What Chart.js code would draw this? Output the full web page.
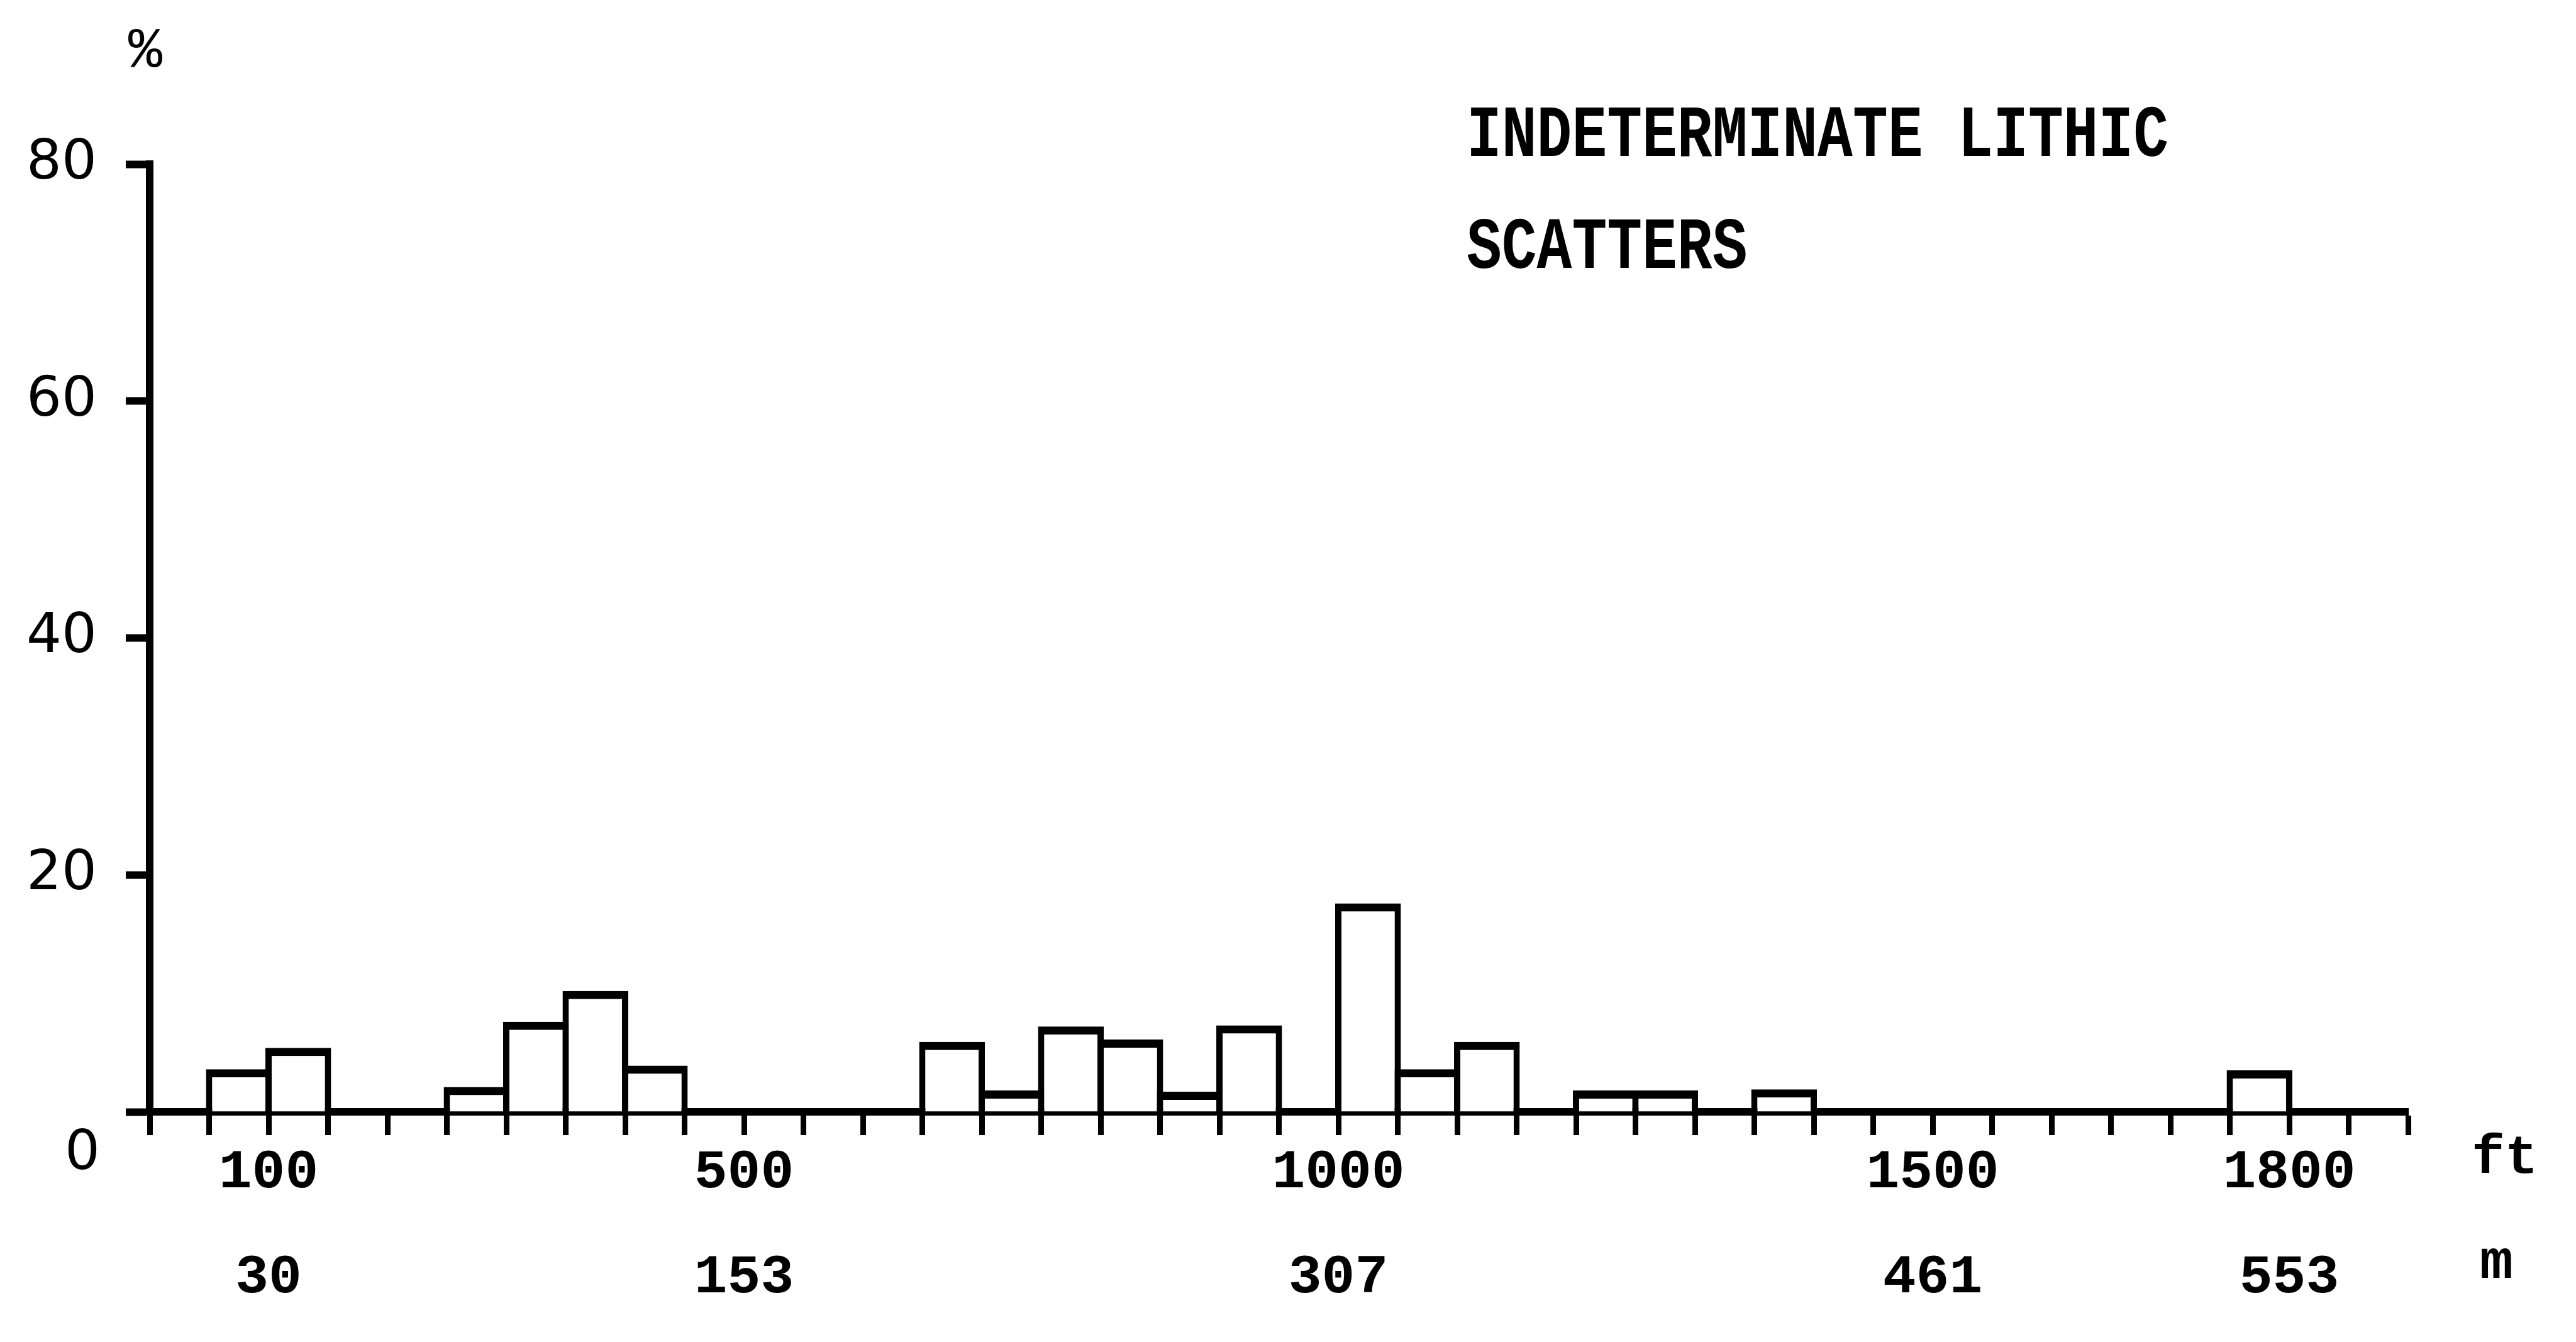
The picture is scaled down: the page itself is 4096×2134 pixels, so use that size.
<!DOCTYPE html>
<html>
<head>
<meta charset="utf-8">
<title>Indeterminate lithic scatters</title>
<script src="https://cdn.jsdelivr.net/npm/chart.js@4.4.1/dist/chart.umd.min.js"></script>
<style>
  html, body { margin: 0; padding: 0; background: #fff; }
  canvas { display: block; }
</style>
</head>
<body>
<canvas id="mycanvas" width="4096" height="2134"></canvas>
<script>
// 50 ft distance classes (lower edge, ft)
let binStart = [0, 50, 100, 150, 200, 250, 300, 350, 400, 450,
                500, 550, 600, 650, 700, 750, 800, 850, 900, 950,
                1000, 1050, 1100, 1150, 1200, 1250, 1300, 1350, 1400, 1450,
                1500, 1550, 1600, 1650, 1700, 1750, 1800, 1850];
// % of sites in each class (0 = no bar)
let percent = [0, 3.6, 5.4, 0, 0, 2.1, 7.6, 10.2, 3.9, 0,
               0, 0, 0, 5.9, 1.8, 7.2, 6.1, 1.7, 7.3, 0,
               17.6, 3.6, 5.9, 0, 1.8, 1.8, 0, 1.9, 0, 0,
               0, 0, 0, 0, 0, 3.5, 0, 0];
let ftTicks = [100, 500, 1000, 1500, 1800];
let mTicks = [30, 153, 307, 461, 553];
let yTicks = [20, 40, 60, 80];
let titleLines = ["INDETERMINATE LITHIC", "SCATTERS"];

let barData = [];
for (let i in binStart) {
    barData.push({ x: binStart[i] + 25, y: percent[i] || null });
}

// text that sits outside the normal axes
const annotations = {
    id: 'annotations',
    afterDraw(chart) {
        const c = chart.ctx;
        c.save();
        c.fillStyle = '#000';
        c.textBaseline = 'alphabetic';
        c.textAlign = 'left';
        c.font = 'bold 93px "Liberation Mono"';
        [[titleLines[0], 248], [titleLines[1], 426]].forEach(function (t) {
            c.save();
            c.translate(2332, t[1]);
            c.scale(1, 1.25);
            c.fillText(t[0], 0, 0);
            c.restore();
        });

        c.textBaseline = 'middle';
        c.textAlign = 'center';
        c.font = '90px "Liberation Mono"';
        c.fillText('%', 231, 82);

        c.textAlign = 'left';
        c.font = 'bold 88px "Liberation Mono"';
        c.fillText('ft', 3930, 1843);
        c.fillText('m', 3943, 2010);

        c.textAlign = 'center';
        c.font = '88px "DejaVu Sans"';
        c.fillText('0', 131, 1836);
        c.restore();
    }
};

let ctx = document.getElementById('mycanvas');

let histo = new Chart(ctx, {
    type: 'bar',
    data: {
        datasets: [{
            label: 'Indeterminate lithic scatters',
            data: barData,
            backgroundColor: '#fff',
            borderColor: '#000',
            borderWidth: { top: 13, left: 10, right: 10, bottom: 0 },
            borderSkipped: 'bottom',
            barPercentage: 1.106,
            categoryPercentage: 1
        }]
    },
    options: {
        responsive: false,
        animation: false,
        devicePixelRatio: 1,
        layout: { padding: { left: 0, top: 261, right: 267, bottom: 0 } },
        plugins: {
            legend: { display: false },
            tooltip: { enabled: false },
            title: { display: false }
        },
        scales: {
            x: {
                type: 'linear',
                min: 0,
                max: 1900,
                offset: false,
                afterFit: function (s) { s.height = 366; },
                grid: {
                    display: true,
                    offset: false,
                    drawOnChartArea: false,
                    drawTicks: true,
                    tickLength: 37,
                    tickWidth: 9,
                    tickColor: '#000',
                    color: '#000'
                },
                border: { display: true, color: '#000', width: 12 },
                ticks: {
                    stepSize: 50,
                    autoSkip: false,
                    maxRotation: 0,
                    minRotation: 0,
                    padding: -23,
                    color: '#000',
                    font: { family: 'Liberation Mono', size: 88, weight: 'bold', lineHeight: 1.9 },
                    callback: function (v) {
                        let i = ftTicks.indexOf(v);
                        return i < 0 ? '' : [String(ftTicks[i]), String(mTicks[i])];
                    }
                }
            },
            y: {
                min: 0,
                max: 80,
                afterFit: function (s) { s.width = 238; },
                grid: {
                    display: true,
                    drawOnChartArea: false,
                    drawTicks: true,
                    tickLength: 38,
                    tickWidth: 12,
                    tickColor: '#000',
                    color: '#000'
                },
                border: { display: true, color: '#000', width: 12 },
                ticks: {
                    stepSize: 20,
                    autoSkip: false,
                    padding: 46,
                    color: '#000',
                    font: { family: 'DejaVu Sans', size: 88 },
                    callback: function (v) {
                        return yTicks.indexOf(v) < 0 ? '' : String(v);
                    }
                }
            }
        }
    },
    plugins: [annotations]
});
</script>
</body>
</html>
